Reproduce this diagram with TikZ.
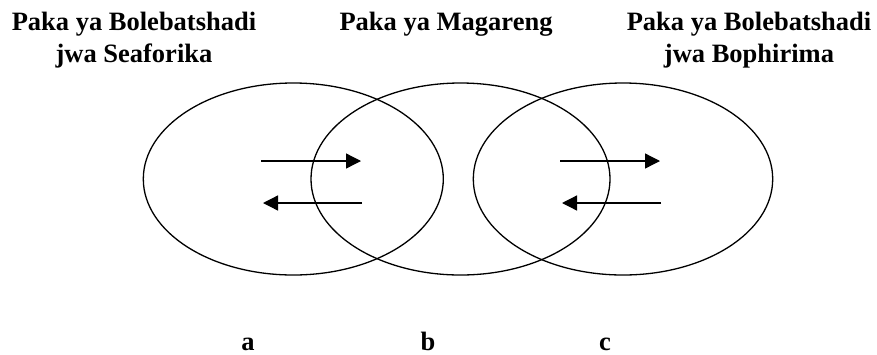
\documentclass[tikz,border=0pt]{standalone}
\usepackage{fontspec}
\setmainfont{Liberation Serif}
\usetikzlibrary{arrows.meta}

\begin{document}
\begin{tikzpicture}[x=1pt,y=-1pt,line width=1.3pt,
    every node/.style={font=\bfseries\fontsize{26.5}{32}\selectfont,inner sep=0pt},
    flow/.style={-{Triangle[length=15pt,width=15pt]}}]
    \useasboundingbox (0,0) rectangle (877,354);
    % regions
    \draw (293.3,179) ellipse (150 and 96);
    \draw (460.5,179) ellipse (149.5 and 96);
    \draw (623,179) ellipse (149.7 and 96);
    % titles
    \node[anchor=base,align=center] (west) at (134,62) {Paka ya Bolebatshadi\\jwa Seaforika};
    \node[anchor=base] (centre) at (446,30) {Paka ya Magareng};
    \node[anchor=base,align=center] (east) at (749,62) {Paka ya Bolebatshadi\\jwa Bophirima};
    % flows
    \coordinate (a1) at (261,161);
    \coordinate (a2) at (361,161);
    \coordinate (a3) at (362,203);
    \coordinate (a4) at (263,203);
    \draw[flow] (a1) -- (a2);
    \draw[flow] (a3) -- (a4);
    \coordinate (c1) at (560,161);
    \coordinate (c2) at (660,161);
    \coordinate (c3) at (661,203);
    \coordinate (c4) at (562,203);
    \draw[flow] (c1) -- (c2);
    \draw[flow] (c3) -- (c4);
    % letters
    \node[anchor=base] (la) at (248,350) {a};
    \node[anchor=base] (lb) at (428,350) {b};
    \node[anchor=base] (lc) at (605,350) {c};
\end{tikzpicture}
\end{document}
